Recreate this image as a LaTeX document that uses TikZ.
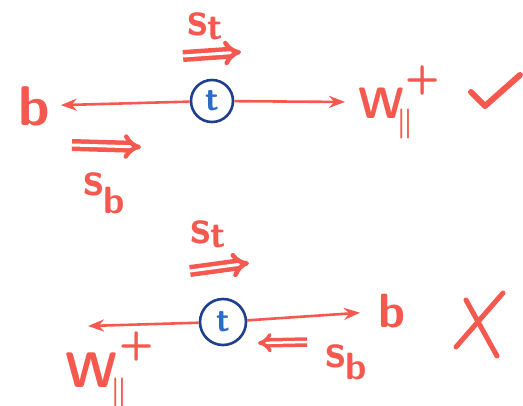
\RequirePackage{fix-cm}
\documentclass[tikz,border=0pt]{standalone}
\usepackage{tikz}
\usetikzlibrary{arrows.meta}
\definecolor{ink}{HTML}{F4584F}
\definecolor{ring}{HTML}{1F3F8C}
\definecolor{quark}{HTML}{2C6CC6}
\tikzset{
  >={Stealth[length=16pt,width=12pt]},
  lbl/.style={text=ink,inner sep=0pt,anchor=base west,
    font=\fontsize{48}{50}\selectfont\sffamily\bfseries},
  quarknode/.style={circle,draw=ring,line width=2.6pt,minimum size=42pt,inner sep=0pt,
    text=quark,font=\fontsize{34}{36}\selectfont\sffamily\bfseries},
  leg/.style={ink,line width=2.6pt,->},
  push/.style={ink,line width=4.5pt,double distance=3pt,-{Implies[]}},
  penstroke/.style={ink,line width=6pt,line cap=round,line join=round}
}
\newcommand{\spin}[3]{#1\raisebox{#3}{\fontsize{38}{38}\selectfont #2}}
\newcommand{\wpar}{W\rlap{\kern2pt\raisebox{0.62em}{\fontsize{40}{40}\selectfont +}}\kern-7pt%
  \raisebox{-13pt}{\fontsize{30}{30}\selectfont\boldmath$\|$}}

\begin{document}
\begin{tikzpicture}[x=1pt,y=-1pt]
\useasboundingbox[fill=white] (0,0) rectangle (523,405);
% allowed: b <- t -> W+
\node[quarknode] (ttop) at (212,101) {t};
\node[lbl,font=\fontsize{56}{58}\selectfont\sffamily\bfseries] (btop) at (18,125) {b};
\node[lbl,font=\fontsize{44}{46}\selectfont\sffamily\bfseries] (wtop) at (358,118) {\wpar};
\node[lbl] (sttop) at (187,35) {\spin{s}{t}{-4pt}};
\node[lbl] (sbtop) at (83,195) {\spin{s}{b}{-18pt}};
\coordinate (pt0) at (183,56); \coordinate (pt1) at (241,52);
\coordinate (pb0) at (72,145); \coordinate (pb1) at (141,147);
\draw[leg,shorten >=11pt] (ttop) -- (btop);
\draw[leg,shorten >=13pt] (ttop) -- (wtop);
\draw[push] (pt0) -- (pt1);
\draw[push] (pb0) -- (pb1);
\draw[penstroke] (471,92) -- (485,106) -- (520,75);
% forbidden: W+ <- t -> b
\node[quarknode,minimum size=46pt] (tbot) at (223,322) {t};
\node[lbl] (bbot) at (378,327) {b};
\node[lbl,font=\fontsize{50}{52}\selectfont\sffamily\bfseries] (wbot) at (65,387) {\wpar};
\node[lbl] (stbot) at (190,243) {\spin{s}{t}{-4pt}};
\node[lbl] (sbbot) at (325,367) {\spin{s}{b}{-12pt}};
\coordinate (wtip) at (88,326);
\coordinate (qt0) at (190,271); \coordinate (qt1) at (249,263);
\coordinate (qb0) at (307,342); \coordinate (qb1) at (258,343);
\draw[leg] (tbot) -- (wtip);
\draw[leg,shorten >=18pt] (tbot) -- (bbot);
\draw[push] (qt0) -- (qt1);
\draw[push,line width=3.5pt,double distance=2.5pt] (qb0) -- (qb1);
\draw[penstroke,line width=5pt] (503,293) -- (456,347);
\draw[penstroke,line width=5pt] (466,300) -- (497,356);
\end{tikzpicture}
\end{document}
